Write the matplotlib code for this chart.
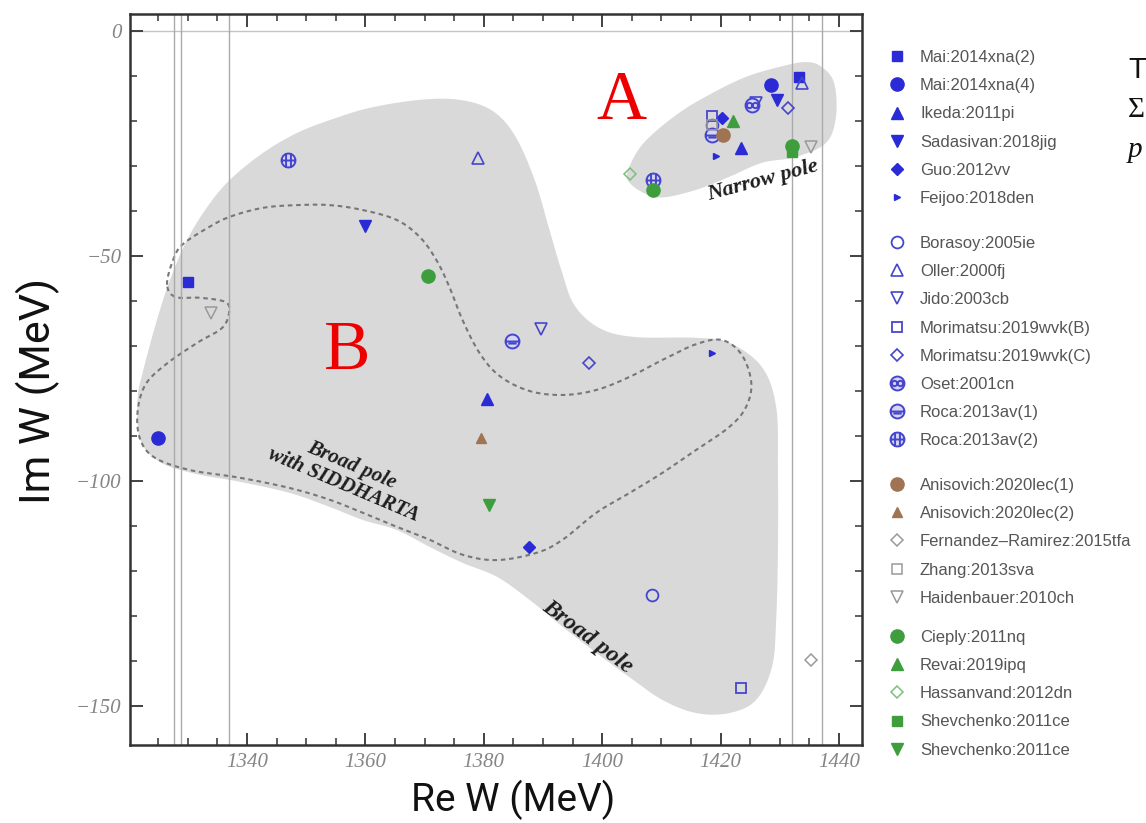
import numpy as np
import matplotlib
matplotlib.use("Agg")
import matplotlib.pyplot as plt
from matplotlib.path import Path
from matplotlib.ticker import MultipleLocator, FixedLocator

plt.rcParams['font.family'] = ['Liberation Sans', 'DejaVu Sans']

# ---------------- data (Re W, Im W in MeV) ----------------
mai2_re = [1330.1, 1433.3];            mai2_im = [-55.8, -10.2]
mai4_re = [1325.0, 1428.5];            mai4_im = [-90.5, -12.0]
ikeda_re = [1380.6, 1423.5];           ikeda_im = [-81.8, -26.1]
sadasivan_re = [1359.9, 1429.6];       sadasivan_im = [-43.3, -15.3]
guo_re = [1387.6, 1420.3];             guo_im = [-114.7, -19.4]
feijoo_re = [1418.5, 1419.2];          feijoo_im = [-71.5, -27.8]
borasoy_re = [1408.5, 1418.5];         borasoy_im = [-125.3, -20.9]
oller_re = [1379.0, 1433.8];           oller_im = [-28.3, -11.5]
jido_re = [1389.7, 1426.0];            jido_im = [-66.3, -16.0]
morimatsuB_re = [1423.5, 1418.5];      morimatsuB_im = [-146.1, -19.0]
morimatsuC_re = [1397.7, 1431.4];      morimatsuC_im = [-73.7, -17.2]
oset_re = [1425.4];                    oset_im = [-16.4]
roca1_re = [1384.7, 1418.5];           roca1_im = [-69.0, -23.1]
roca2_re = [1346.9, 1408.6];           roca2_im = [-28.7, -33.1]
anisovich1_re = [1420.4];              anisovich1_im = [-23.1]
anisovich2_re = [1379.6];              anisovich2_im = [-90.4]
fernandez_re = [1435.2];               fernandez_im = [-139.9]
zhang_re = [1418.5];                   zhang_im = [-21.0]
haidenbauer_re = [1334.0, 1435.3];     haidenbauer_im = [-62.6, -25.7]
cieply_re = [1370.6, 1432.1, 1408.6];  cieply_im = [-54.4, -25.6, -35.3]
revai_re = [1422.1];                   revai_im = [-20.1]
hassanvand_re = [1404.7];              hassanvand_im = [-31.8]
shevchenko1_re = [1432.1];             shevchenko1_im = [-27.0]
shevchenko2_re = [1380.9];             shevchenko2_im = [-105.3]

labels = ["Mai:2014xna(2)", "Mai:2014xna(4)", "Ikeda:2011pi", "Sadasivan:2018jig",
          "Guo:2012vv", "Feijoo:2018den",
          "Borasoy:2005ie", "Oller:2000fj", "Jido:2003cb", "Morimatsu:2019wvk(B)",
          "Morimatsu:2019wvk(C)", "Oset:2001cn", "Roca:2013av(1)", "Roca:2013av(2)",
          "Anisovich:2020lec(1)", "Anisovich:2020lec(2)", "Fernandez\u2013Ramirez:2015tfa",
          "Zhang:2013sva", "Haidenbauer:2010ch",
          "Cieply:2011nq", "Revai:2019ipq", "Hassanvand:2012dn", "Shevchenko:2011ce",
          "Shevchenko:2011ce"]
group_sizes = [6, 8, 5, 5]

# thresholds (pi Sigma and Kbar N)
thresholds_re = [1327.6, 1328.9, 1337.0, 1432.0, 1437.2]

# region outlines
broad_re = [1321.5, 1322.5, 1324.8, 1327.0, 1329.9, 1333.3, 1337.1, 1342.7, 1348.4, 1354.0,
            1360.7, 1369.2, 1375.9, 1381.3, 1385.2, 1388.6, 1391.1, 1393.1, 1395.3, 1399.5,
            1405.4, 1415.9, 1421.5, 1427.0, 1429.4, 1429.7, 1429.7, 1429.4, 1428.7, 1426.0,
            1421.5, 1415.9, 1410.2, 1404.6, 1399.0, 1393.3, 1387.7, 1382.2, 1376.4, 1370.9,
            1365.3, 1359.6, 1354.0, 1347.3, 1338.8, 1331.2, 1325.3, 1322.0]
broad_im = [-82.0, -75.3, -64.2, -55.3, -46.4, -39.1, -33.1, -27.1, -22.7, -19.8,
            -17.1, -15.3, -15.3, -17.6, -23.1, -33.1, -44.2, -53.1, -60.9, -66.0,
            -68.0, -68.2, -69.3, -74.7, -83.6, -97.6, -115.3, -130.9, -141.3, -148.7,
            -151.6, -151.6, -148.7, -143.6, -138.2, -132.4, -126.4, -121.3, -118.2, -114.7,
            -110.9, -108.7, -105.8, -102.7, -100.2, -98.4, -95.8, -90.9]

narrow_re = [1404.3, 1407.0, 1410.2, 1415.9, 1421.5, 1427.0, 1432.7, 1437.8, 1439.5,
             1439.2, 1437.1, 1434.4, 1429.9, 1424.3, 1418.6, 1413.0, 1407.5, 1405.0]
narrow_im = [-33.0, -36.0, -37.0, -35.3, -32.4, -29.3, -28.0, -24.9, -19.1,
             -11.6, -8.0, -6.9, -8.0, -10.2, -13.8, -18.2, -24.2, -29.0]

siddharta_re = [1326.5, 1327.4, 1329.0, 1333.3, 1337.1, 1342.7, 1348.4, 1354.0, 1359.6,
                1365.3, 1369.2, 1372.0, 1374.2, 1376.4, 1379.3, 1382.7, 1387.7, 1393.3,
                1399.0, 1404.6, 1410.2, 1415.9, 1420.3, 1423.6, 1425.2, 1424.3, 1421.5,
                1415.9, 1410.2, 1404.6, 1399.0, 1393.3, 1388.9, 1382.2, 1376.4, 1370.9,
                1365.3, 1359.6, 1354.0, 1347.3, 1338.8, 1330.4, 1324.5, 1322.0, 1321.5,
                1322.8, 1326.2, 1331.6, 1335.8, 1337.0, 1336.3, 1332.1, 1327.9]
siddharta_im = [-56.4, -51.3, -47.6, -43.8, -41.3, -39.3, -38.7, -38.7, -39.8,
                -42.0, -45.8, -50.9, -56.9, -64.2, -71.6, -76.7, -80.0, -80.9,
                -79.8, -76.9, -73.1, -69.6, -68.7, -72.0, -78.2, -83.6, -88.0,
                -93.1, -98.2, -102.7, -107.1, -113.1, -116.0, -117.6, -116.4, -113.1,
                -110.2, -107.1, -104.2, -101.6, -99.3, -97.6, -94.9, -90.9, -84.9,
                -78.7, -74.2, -69.3, -66.0, -62.4, -60.2, -59.3, -59.1]

# ---------------- helpers ----------------
SX, SY = 5.92, 4.5   # px per MeV, used only to make the spline isotropic


def closed_spline(xs, ys, n=16):
    P = np.column_stack([np.asarray(xs) * SX, np.asarray(ys) * SY])
    N = len(P)
    t = np.linspace(0, 1, n, endpoint=False)[:, None]
    out = []
    for i in range(N):
        p0, p1, p2, p3 = P[i - 1], P[i], P[(i + 1) % N], P[(i + 2) % N]
        pts = 0.5 * (2 * p1 + (-p0 + p2) * t + (2 * p0 - 5 * p1 + 4 * p2 - p3) * t ** 2
                     + (-p0 + 3 * p1 - 3 * p2 + p3) * t ** 3)
        out.append(pts)
    out = np.vstack(out + [out[0][:1]])
    return out[:, 0] / SX, out[:, 1] / SY


def circ_marker(kind):
    c = Path.unit_circle()
    if kind == 'plus':
        inner = Path([(-1, 0), (1, 0), (-0.35, -1), (-0.35, 1), (0.35, -1), (0.35, 1)],
                     [Path.MOVETO, Path.LINETO, Path.MOVETO, Path.LINETO, Path.MOVETO, Path.LINETO])
    elif kind == 'bar':
        inner = Path([(-1, 0), (1, 0), (-0.6, -0.3), (0.6, -0.3)],
                     [Path.MOVETO, Path.LINETO, Path.MOVETO, Path.LINETO])
    else:
        a = Path.unit_circle()
        v1 = a.vertices * 0.38 + np.array([-0.42, 0])
        v2 = a.vertices * 0.38 + np.array([0.42, 0])
        inner = Path.make_compound_path(Path(v1, a.codes), Path(v2, a.codes))
    return Path.make_compound_path(c, inner)


BLUE = '#2b2bd6'
BLUE_O = '#4646cc'
BROWN = '#a07452'
GRAY = '#9a9a9a'
GREEN = '#3e9e3e'
GREEN_O = '#7cc07c'

series = [
    (mai2_re, mai2_im, dict(marker='s', ms=6.5, mfc=BLUE, mec=BLUE)),
    (mai4_re, mai4_im, dict(marker='o', ms=9.5, mfc=BLUE, mec=BLUE)),
    (ikeda_re, ikeda_im, dict(marker='^', ms=8, mfc=BLUE, mec=BLUE)),
    (sadasivan_re, sadasivan_im, dict(marker='v', ms=8, mfc=BLUE, mec=BLUE)),
    (guo_re, guo_im, dict(marker='D', ms=6.5, mfc=BLUE, mec=BLUE)),
    (feijoo_re, feijoo_im, dict(marker='>', ms=4.5, mfc=BLUE, mec=BLUE)),
    (borasoy_re, borasoy_im, dict(marker='o', ms=8.5, mfc='none', mec=BLUE_O, mew=1.3)),
    (oller_re, oller_im, dict(marker='^', ms=8, mfc='none', mec=BLUE_O, mew=1.2)),
    (jido_re, jido_im, dict(marker='v', ms=8, mfc='none', mec=BLUE_O, mew=1.2)),
    (morimatsuB_re, morimatsuB_im, dict(marker='s', ms=7, mfc='none', mec=BLUE_O, mew=1.3)),
    (morimatsuC_re, morimatsuC_im, dict(marker='D', ms=6.5, mfc='none', mec=BLUE_O, mew=1.2)),
    (oset_re, oset_im, dict(marker=circ_marker('rings'), ms=10, mfc='#d6d6f4', mec=BLUE_O, mew=1.4)),
    (roca1_re, roca1_im, dict(marker=circ_marker('bar'), ms=10, mfc='#d6d6f4', mec=BLUE_O, mew=1.4)),
    (roca2_re, roca2_im, dict(marker=circ_marker('plus'), ms=10, mfc='#d6d6f4', mec=BLUE_O, mew=1.4)),
    (anisovich1_re, anisovich1_im, dict(marker='o', ms=9.5, mfc=BROWN, mec=BROWN)),
    (anisovich2_re, anisovich2_im, dict(marker='^', ms=7.5, mfc=BROWN, mec=BROWN)),
    (fernandez_re, fernandez_im, dict(marker='D', ms=6, mfc='none', mec=GRAY, mew=1.1)),
    (zhang_re, zhang_im, dict(marker='s', ms=6.5, mfc='none', mec=GRAY, mew=1.1)),
    (haidenbauer_re, haidenbauer_im, dict(marker='v', ms=8, mfc='none', mec=GRAY, mew=1.1)),
    (cieply_re, cieply_im, dict(marker='o', ms=9.5, mfc=GREEN, mec=GREEN)),
    (revai_re, revai_im, dict(marker='^', ms=8, mfc=GREEN, mec=GREEN)),
    (hassanvand_re, hassanvand_im, dict(marker='D', ms=6, mfc='none', mec=GREEN_O, mew=1.1)),
    (shevchenko1_re, shevchenko1_im, dict(marker='s', ms=6.5, mfc=GREEN, mec=GREEN)),
    (shevchenko2_re, shevchenko2_im, dict(marker='v', ms=8, mfc=GREEN, mec=GREEN)),
]

# ---------------- figure ----------------
W, H = 1146, 823
fig = plt.figure(figsize=(W / 100, H / 100), dpi=100)
fig.patch.set_facecolor('white')
ax = fig.add_axes([130 / W, 1 - 745 / H, 732 / W, 731 / H])
ax.set_xlim(1320.24, 1443.9)
ax.set_ylim(-158.7, 3.78)

# regions
bx, by = closed_spline(broad_re, broad_im)
ax.fill(bx, by, color='#d9d9d9', lw=0, zorder=1)
nx, ny = closed_spline(narrow_re, narrow_im)
ax.fill(nx, ny, color='#d9d9d9', lw=0, zorder=1)
sx, sy = closed_spline(siddharta_re, siddharta_im)
ax.plot(sx, sy, color='#777777', lw=1.5, ls=(0, (2.2, 1.8)), zorder=2)

# reference lines
ax.axhline(0, color='#c4c4c4', lw=1.0, zorder=1.5)
for t in thresholds_re:
    ax.axvline(t, color='#aaaaaa', lw=1.0, zorder=2)

# points
handles = []
for (xs, ys, st), lab in zip(series, labels):
    h, = ax.plot(xs, ys, ls='none', zorder=4, label=lab, **st)
    handles.append(h)

# annotations
ax.text(1403.3, -15.8, 'A', color='#ee0000', fontsize=50, family=['Liberation Serif', 'DejaVu Serif'],
        ha='center', va='center', zorder=5,
        bbox=dict(boxstyle='square,pad=0.05', fc='white', ec='none'))
ax.text(1356.9, -71.3, 'B', color='#ee0000', fontsize=50, family=['Liberation Serif', 'DejaVu Serif'],
        ha='center', va='center', zorder=5)
tfont = dict(family=['Liberation Serif', 'DejaVu Serif'], weight='bold', style='italic', color='#1e1e1e')
ax.text(1427.2, -33.3, 'Narrow pole', fontsize=16, rotation=15, ha='center', va='center',
        rotation_mode='anchor', zorder=5, **tfont)
ax.text(1357.0, -98.7, 'Broad pole\nwith SIDDHARTA', fontsize=15, rotation=-23, ha='center',
        va='center', rotation_mode='anchor', linespacing=1.05, multialignment='center', zorder=5, **tfont)
ax.text(1397.5, -134.7, 'Broad pole', fontsize=17, rotation=-37, ha='center', va='center',
        rotation_mode='anchor', zorder=5, **tfont)

# axes styling
ax.xaxis.set_major_locator(FixedLocator([1340, 1360, 1380, 1400, 1420, 1440]))
ax.xaxis.set_minor_locator(MultipleLocator(5))
ax.yaxis.set_major_locator(FixedLocator([0, -50, -100, -150]))
ax.yaxis.set_minor_locator(MultipleLocator(10))
ax.tick_params(which='both', direction='in', top=True, right=True, color='#333333')
ax.tick_params(which='major', length=9, width=1.3)
ax.tick_params(which='minor', length=5, width=1.1)
ax.tick_params(axis='both', which='major', labelsize=15, labelcolor='#858585', pad=6)
for lab in ax.get_xticklabels() + ax.get_yticklabels():
    lab.set_fontfamily(['Liberation Serif', 'DejaVu Serif'])
    lab.set_fontstyle('italic')
for sp in ax.spines.values():
    sp.set_linewidth(1.8)
    sp.set_color('#333333')

# axis titles
lab_font = ['Roboto', 'DejaVu Sans']
fig.text(513 / W, 1 - 800 / H, 'Re W (MeV)', fontsize=28, family=lab_font, ha='center', va='center',
         color='#111111')
fig.text(38 / W, 1 - 391 / H, 'Im W (MeV)', fontsize=31, family=lab_font, ha='center', va='center',
         rotation=90, color='#111111')

# legend in groups
tops = [50, 236, 478, 630]
start = 0
for gsize, top in zip(group_sizes, tops):
    hs = handles[start:start + gsize]
    fig.legend(handles=hs, labels=[h.get_label() for h in hs], loc='upper left',
               bbox_to_anchor=(889 / W, 1 - top / H), frameon=False, borderpad=0,
               borderaxespad=0, handlelength=1.0, handletextpad=0.86, labelspacing=0.79,
               prop=dict(family=['Liberation Sans', 'DejaVu Sans'], size=12),
               labelcolor='#555555', numpoints=1)
    start += gsize

# partially visible text at the right edge
fig.text(1128 / W, 1 - 70 / H, 'T', fontsize=21, family=['Liberation Sans', 'DejaVu Sans'],
         va='center', ha='left', color='#111111')
fig.text(1128 / W, 1 - 110 / H, '\u03a3', fontsize=21, family=['Liberation Serif', 'DejaVu Serif'],
         va='center', ha='left', color='#111111')
fig.text(1128 / W, 1 - 150 / H, 'p', fontsize=21, family=['Liberation Serif', 'DejaVu Serif'],
         style='italic', va='center', ha='left', color='#111111')

fig.savefig('out.png', dpi=100, facecolor='white')
